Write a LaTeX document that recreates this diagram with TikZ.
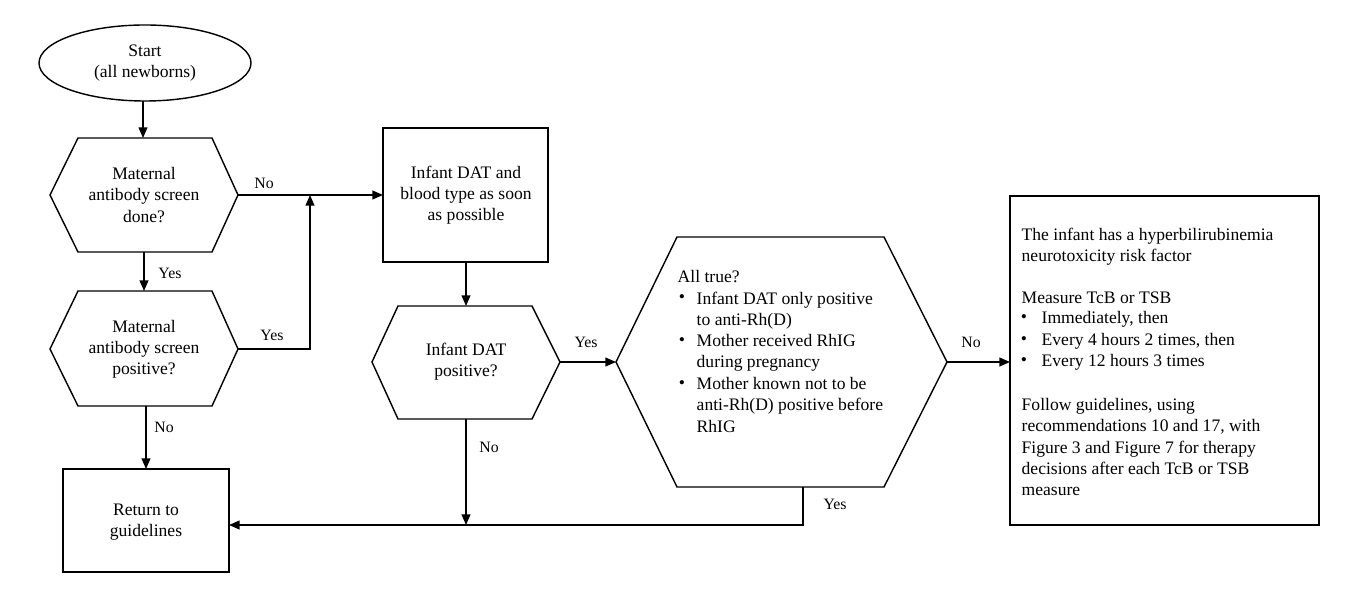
\documentclass[tikz,border=0pt]{standalone}
\usepackage{fontspec}
\setmainfont{Liberation Serif}
\usetikzlibrary{arrows.meta}
\begin{document}
\begin{tikzpicture}[x=0.02cm,y=-0.02cm,
  line width=0.8pt,
  txt/.style={font=\fontsize{10}{12}\selectfont,align=center,inner sep=0pt},
  lab/.style={font=\fontsize{9}{10}\selectfont,inner sep=1pt},
  arr/.style={-{Triangle[length=6pt,width=5pt]}}]
\useasboundingbox (0,0) rectangle (1356,604);
\draw (145,63) ellipse [x radius=106,y radius=38];
\node[txt] (start) at (145,63) {Start\\(all newborns)};
\draw (50,195)--(78,138)--(212,138)--(238,195)--(212,252)--(78,252)--cycle;
\node[txt] (h1) at (144,195) {Maternal\\antibody screen\\done?};
\draw (50,349)--(78,291)--(212,291)--(238,349)--(212,406)--(78,406)--cycle;
\node[txt] (h2) at (144,349) {Maternal\\antibody screen\\positive?};
\draw (63,469) rectangle (229,572);
\node[txt] (ret) at (146,522) {Return to\\guidelines};
\draw (383,128) rectangle (548,262);
\node[txt] (dat) at (466,195) {Infant DAT and\\blood type as soon\\as possible};
\draw (372,362)--(398,306)--(532,306)--(560,362)--(532,419)--(398,419)--cycle;
\node[txt] (h3) at (466,362) {Infant DAT\\positive?};
\draw (616,362)--(677,237)--(884,237)--(947,362)--(884,487)--(677,487)--cycle;
\node[txt,anchor=west] (h4) at (677,277) {All true?};
\foreach \y/\t in {299/{Infant DAT only positive\\to anti-Rh(D)},342/{Mother received RhIG\\during pregnancy},385/{Mother known not to be\\anti-Rh(D) positive before\\RhIG}}{
  \node[txt] at (682,\y) {•};
  \node[txt,align=left,anchor=north west] at (696,\y-8) {\t};}
\draw (1010,196) rectangle (1319,525);
\node[txt,align=left,anchor=north west] (rb) at (1021,227) {The infant has a hyperbilirubinemia\\neurotoxicity risk factor};
\node[txt,anchor=west] at (1021,298) {Measure TcB or TSB};
\foreach \y/\t in {319/{Immediately, then},341/{Every 4 hours 2 times, then},362/{Every 12 hours 3 times}}{
  \node[txt] at (1024,\y) {•};
  \node[txt,align=left,anchor=west] at (1041,\y) {\t};}
\node[txt,align=left,anchor=north west] at (1021,398) {Follow guidelines, using\\recommendations 10 and 17, with\\Figure 3 and Figure 7 for therapy\\decisions after each TcB or TSB\\measure};
% arrows
\draw[arr] (143,101)--(143,138);
\draw[arr] (144,252)--(144,291);
\node[lab] at (170,273) {Yes};
\draw[arr] (146,406)--(146,469);
\node[lab] at (164,427) {No};
\draw[arr] (238,195)--(383,195);
\node[lab] at (264,183) {No};
\draw[arr] (238,349)--(310,349)--(310,195);
\node[lab] at (272,335) {Yes};
\draw[arr] (466,262)--(466,306);
\draw[arr] (560,362)--(616,362);
\node[lab] at (586,342) {Yes};
\draw[arr] (947,362)--(1010,362);
\node[lab] at (971,342) {No};
\draw[arr] (466,419)--(466,525);
\node[lab] at (489,447) {No};
\draw[arr] (803,487)--(803,525)--(229,525);
\node[lab] at (835,504) {Yes};
\end{tikzpicture}
\end{document}
